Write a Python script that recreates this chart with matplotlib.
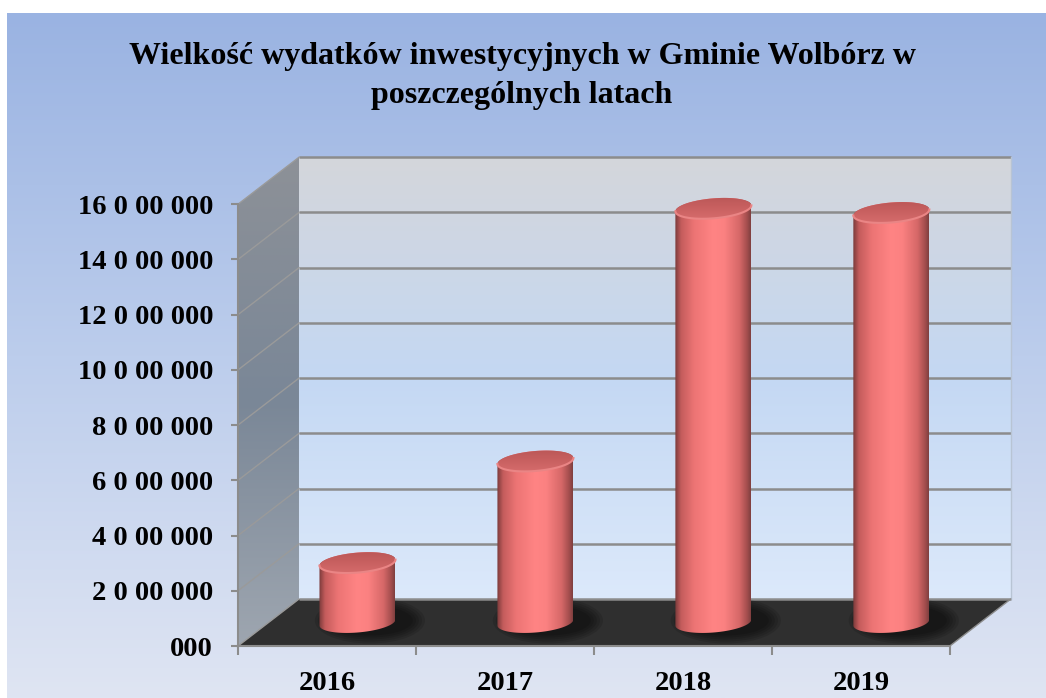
import numpy as np
import matplotlib
matplotlib.use('Agg')
import matplotlib.pyplot as plt
from matplotlib.colors import LinearSegmentedColormap
from matplotlib.patches import Polygon, Ellipse

plt.rcParams['font.family'] = ['Liberation Serif', 'DejaVu Serif']

# data
years = ['2016', '2017', '2018', '2019']
expenses = [2170000, 5850000, 15000000, 14850000]
ytick_values = [0, 2000000, 4000000, 6000000, 8000000, 10000000, 12000000, 14000000, 16000000]
ytick_labels = ['000', '2 0 00 000', '4 0 00 000', '6 0 00 000', '8 0 00 000',
                '10 0 00 000', '12 0 00 000', '14 0 00 000', '16 0 00 000']
title = 'Wielkość wydatków inwestycyjnych w Gminie Wolbórz w\nposzczególnych latach'

W, H = 1046, 698
fig = plt.figure(figsize=(W / 100, H / 100), dpi=100)

# gradient panel behind everything
bg = fig.add_axes([7 / W, 0, 1 - 7 / W, 685 / H])
bg_cmap = LinearSegmentedColormap.from_list('bg', ['#9ab3e2', '#bccdec', '#dfe5f3'])
bg.imshow(np.linspace(0, 1, 256).reshape(-1, 1), cmap=bg_cmap, aspect='auto', extent=[0, 1, 0, 1])
bg.axis('off')

n = len(years)
ymax = ytick_values[-1]
px = 2000000 / 55.25          # value units per pixel
dx = 61 / 178                  # depth offset in category units
dy = 47 * px                   # depth offset in value units

ax = fig.add_axes([238 / W, 52 / H, 783 / W, 497 / H])
ax.set_facecolor('none')

# back wall
wall_cmap = LinearSegmentedColormap.from_list('wall', ['#d4d6db', '#c4d8f3', '#dce9fb'])
ax.imshow(np.linspace(0, 1, 256).reshape(-1, 1), cmap=wall_cmap, aspect='auto',
          extent=[dx, n + dx, dy, ymax + dy], zorder=1)

# side wall
side = Polygon([(0, 0), (dx, dy), (dx, ymax + dy), (0, ymax)], closed=True, transform=ax.transData)
side_cmap = LinearSegmentedColormap.from_list('side', ['#8d9197', '#7a8797', '#9ea6b0'])
im = ax.imshow(np.linspace(0, 1, 256).reshape(-1, 1), cmap=side_cmap, aspect='auto',
               extent=[0, dx, 0, ymax + dy], zorder=1)
im.set_clip_path(side)

# floor
ax.add_patch(Polygon([(0, 0), (n, 0), (n + dx, dy), (dx, dy)], closed=True,
                     fc='#2f2f2f', ec='none', zorder=2))

# gridlines on back and side walls
for v in ytick_values:
    ax.plot([dx, n + dx], [v + dy, v + dy], color='#8c8c8c', lw=1.8, zorder=2.5, solid_capstyle='butt')
    ax.plot([0, dx], [v, v + dy], color='#9a9a9a', lw=1.0, zorder=2.5)
ax.plot([n + dx, n + dx], [dy, ymax + dy], color='#b8c4d4', lw=1.0, zorder=2.5)
ax.plot([n, n + dx], [0, dy], color='#8c8c8c', lw=1.0, zorder=2.5)

# cylinders
cyl_cmap = LinearSegmentedColormap.from_list('cyl', [
    (0.0, '#7a3a3a'), (0.08, '#c45c5c'), (0.25, '#ec7474'), (0.5, '#ff8484'),
    (0.65, '#fb8181'), (0.85, '#d66868'), (0.95, '#a44e4e'), (1.0, '#7f3f3f')])
cap_cmap = LinearSegmentedColormap.from_list('cap', ['#b95656', '#c96161', '#d86e6e'])
r = 0.2135
b = 10 * px
s = 3 * px
for i, v in enumerate(expenses):
    cx = i + 0.5 + dx / 2
    base = dy / 2
    top = v + dy / 2

    # soft shadow on the floor
    for k in range(5):
        ax.add_patch(Ellipse((cx + 0.07, base + 2 * px), 2 * r * (1.45 - 0.08 * k), 2 * b * (2.3 - 0.2 * k),
                             fc='black', ec='none', alpha=0.12, zorder=3))

    t_front = np.linspace(np.pi, 2 * np.pi, 60)
    t_back = np.linspace(0, np.pi, 60)
    bottom_x = cx + r * np.cos(t_front)
    bottom_y = base + b * np.sin(t_front) + s * np.cos(t_front)
    top_x = cx + r * np.cos(t_back)
    top_y = top + b * np.sin(t_back) + s * np.cos(t_back)
    body = Polygon(np.column_stack([np.r_[bottom_x, top_x], np.r_[bottom_y, top_y]]),
                   closed=True, transform=ax.transData)
    im = ax.imshow(np.linspace(0, 1, 256).reshape(1, -1), cmap=cyl_cmap, aspect='auto',
                   extent=[cx - r, cx + r, base - b - s, top + b + s], zorder=4)
    im.set_clip_path(body)

    t = np.linspace(0, 2 * np.pi, 120)
    cap = Polygon(np.column_stack([cx + r * np.cos(t), top + b * np.sin(t) + s * np.cos(t)]),
                  closed=True, transform=ax.transData)
    im = ax.imshow(np.linspace(0, 1, 64).reshape(-1, 1), cmap=cap_cmap, aspect='auto',
                   extent=[cx - r, cx + r, top - b - s, top + b + s], zorder=5)
    im.set_clip_path(cap)
    ax.plot(bottom_x, top + (bottom_y - base), color='#ea8585', lw=1.5, zorder=5)

# axes, ticks and labels
ax.set_xlim(0, 4.40)
ax.set_ylim(0, 18000000)
for side_name in ['top', 'right']:
    ax.spines[side_name].set_visible(False)
ax.spines['left'].set_bounds(0, ymax)
ax.spines['bottom'].set_bounds(0, n)
for side_name in ['left', 'bottom']:
    ax.spines[side_name].set_color('#8c8c8c')
    ax.spines[side_name].set_linewidth(1.5)
    ax.spines[side_name].set_zorder(6)

ax.set_yticks(ytick_values, ytick_labels)
ax.tick_params(axis='y', length=5, width=1.5, color='#8c8c8c', pad=13, labelsize=20.5)
ax.set_xticks(range(n + 1), [''] * (n + 1))
ax.set_xticks([i + 0.5 for i in range(n)], years, minor=True)
ax.tick_params(axis='x', which='major', length=6.5, width=1.5, color='#8c8c8c')
ax.tick_params(axis='x', which='minor', length=0, pad=18, labelsize=20.5)
for label in ax.get_yticklabels() + ax.get_xticklabels(minor=True):
    label.set_fontweight('bold')

fig.text(522 / W, 1 - 76 / H, title, ha='center', va='center', fontsize=23,
         fontweight='bold', linespacing=1.42)

fig.savefig('out.png', dpi=100)
